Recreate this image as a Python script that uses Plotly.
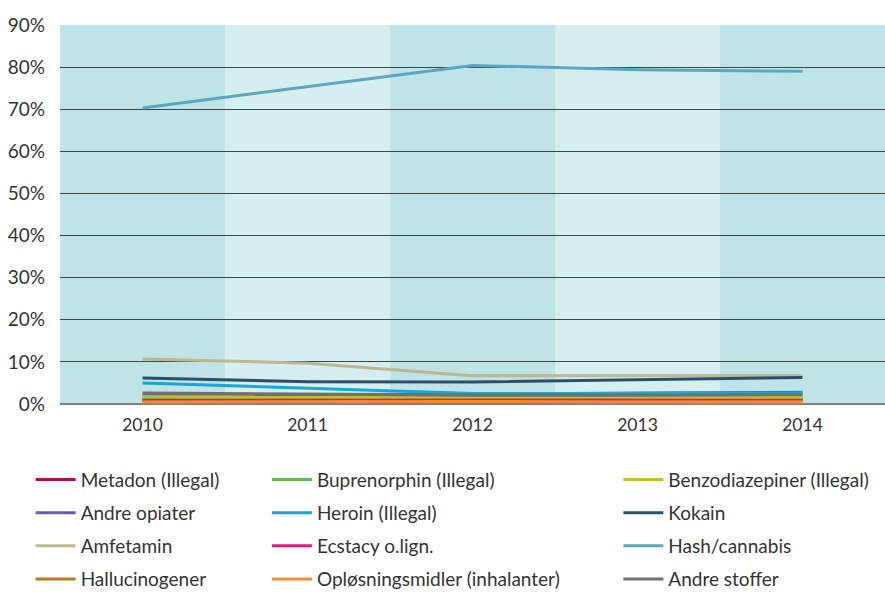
import plotly.graph_objects as go

years = ["2010", "2011", "2012", "2013", "2014"]
y_ticks = [0, 10, 20, 30, 40, 50, 60, 70, 80, 90]
y_tick_labels = ["0%", "10%", "20%", "30%", "40%", "50%", "60%", "70%", "80%", "90%"]

metadon = [1.0, 1.2, 1.1, 1.0, 1.0]
buprenorphin = [1.3, 1.4, 1.3, 1.3, 1.3]
benzodiazepiner = [1.7, 1.7, 1.6, 1.6, 1.6]
andre_opiater = [2.2, 2.2, 2.3, 2.6, 2.8]
heroin = [5.0, 3.7, 2.5, 2.5, 2.6]
kokain = [6.2, 5.3, 5.2, 5.8, 6.3]
amfetamin = [10.7, 9.7, 6.7, 6.7, 6.7]
ecstacy = [0.9, 0.9, 1.0, 1.1, 1.2]
hash_cannabis = [70.3, 75.3, 80.4, 79.4, 79.0]
hallucinogener = [0.7, 0.7, 0.7, 0.7, 0.8]
oplosningsmidler = [0.5, 0.6, 0.6, 0.5, 0.5]
andre_stoffer = [2.6, 2.4, 2.1, 2.1, 2.2]

series = [
    ("Metadon (Illegal)", metadon, "#b0123f", "legend"),
    ("Andre opiater", andre_opiater, "#6b5bb0", "legend"),
    ("Amfetamin", amfetamin, "#bdb890", "legend"),
    ("Hallucinogener", hallucinogener, "#bf7426", "legend"),
    ("Buprenorphin (Illegal)", buprenorphin, "#5cbb4c", "legend2"),
    ("Heroin (Illegal)", heroin, "#13a8d6", "legend2"),
    ("Ecstacy o.lign.", ecstacy, "#e8167c", "legend2"),
    ("Opløsningsmidler (inhalanter)", oplosningsmidler, "#f58a2e", "legend2"),
    ("Benzodiazepiner (Illegal)", benzodiazepiner, "#b9c42a", "legend3"),
    ("Kokain", kokain, "#2b5068", "legend3"),
    ("Hash/cannabis", hash_cannabis, "#5ba7c2", "legend3"),
    ("Andre stoffer", andre_stoffer, "#707070", "legend3"),
]

FONT = "Lato"
TXT = "#333333"
fig = go.Figure()
for i, (name, vals, color, lg) in enumerate(series):
    fig.add_trace(go.Scatter(
        x=years, y=vals, name=name, mode="lines",
        line=dict(color=color, width=3),
        legend=lg, legendgroup=f"g{i}",
    ))

# alternating background bands
band_colors = ["#bfe4e7", "#d5eef0"]
for i in range(len(years)):
    fig.add_shape(type="rect", xref="x", yref="paper",
                  x0=i - 0.5, x1=i + 0.5, y0=0, y1=1,
                  fillcolor=band_colors[i % 2], line=dict(width=0), layer="below")

legend_common = dict(
    orientation="v", yanchor="top", y=-0.1494, xanchor="left",
    bgcolor="rgba(0,0,0,0)", borderwidth=0, tracegroupgap=5.5,
    font=dict(family=FONT, size=19, color=TXT), itemwidth=40,
)

fig.update_layout(
    width=885, height=592,
    margin=dict(l=60, r=0, t=25, b=188, autoexpand=False),
    paper_bgcolor="white", plot_bgcolor="rgba(0,0,0,0)",
    font=dict(family=FONT, size=17, color=TXT),
    showlegend=True,
    legend=dict(x=-0.0356, **legend_common),
    legend2=dict(x=0.2508, **legend_common),
    legend3=dict(x=0.6768, **legend_common),
    xaxis=dict(
        type="category", range=[-0.5, 4.5], showgrid=False, zeroline=False,
        showline=False, ticks="", tickfont=dict(family=FONT, size=17.5, color=TXT),
        ticklabelstandoff=8,
    ),
    yaxis=dict(
        range=[0, 90], tickvals=y_ticks, ticktext=y_tick_labels,
        showgrid=True, gridcolor="#3f4648", gridwidth=1.3,
        zeroline=True, zerolinecolor="#808080", zerolinewidth=2,
        showline=False, ticks="", ticklabelstandoff=14,
        tickfont=dict(family=FONT, size=19, color=TXT),
    ),
)

fig.write_html(
    "out.html",
    config={"displayModeBar": False},
    post_script="document.body.style.margin='0';document.body.style.overflow='hidden';",
)
